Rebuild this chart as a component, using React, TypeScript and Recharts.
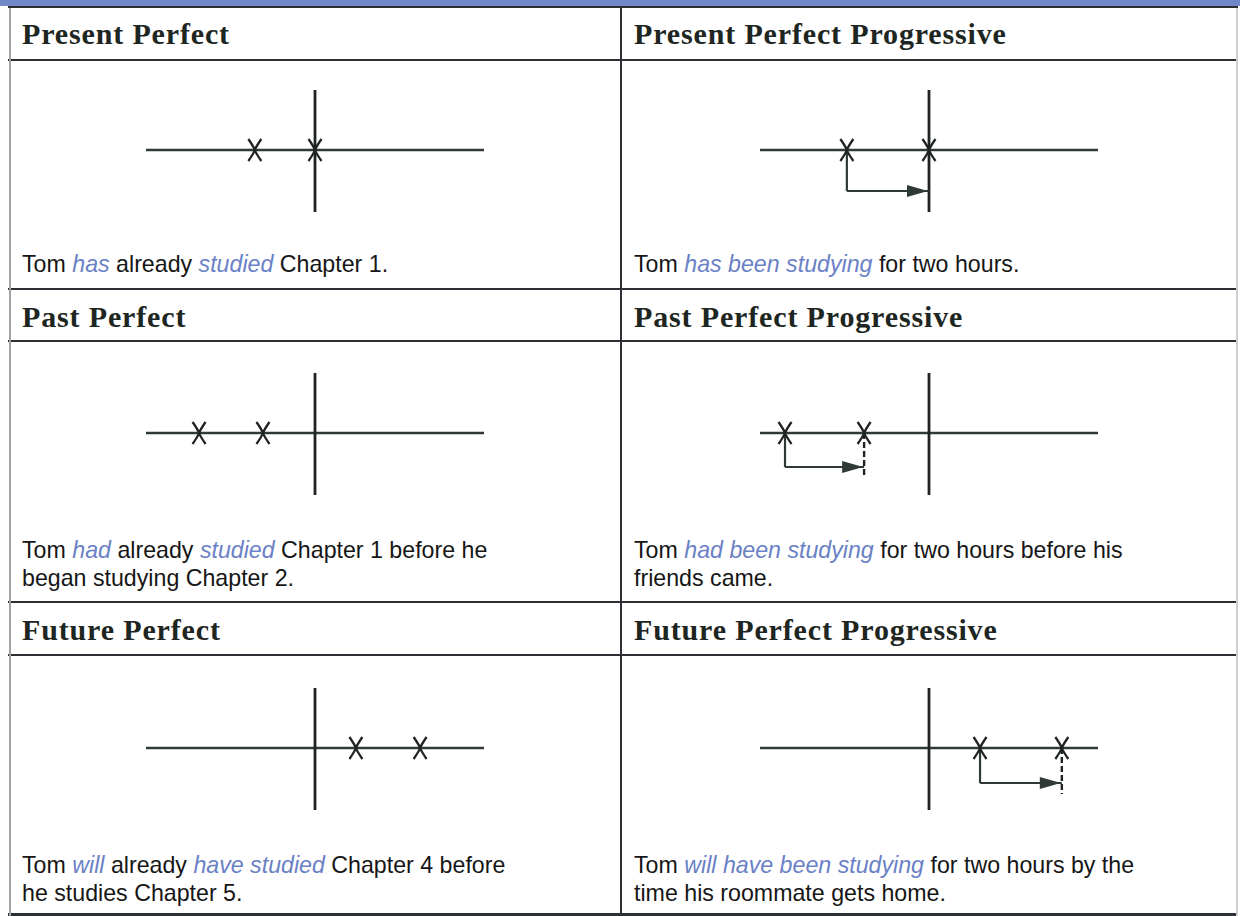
import { ScatterChart, Scatter, XAxis, YAxis, ReferenceLine } from 'recharts'

// time axis: "now" = 0, timeline runs -5 .. 5
const TIMELINE = [-5, 5]
const NOW_TOP = 60
const NOW_BOTTOM = -62

const TITLES = [
  'Present Perfect',
  'Present Perfect Progressive',
  'Past Perfect',
  'Past Perfect Progressive',
  'Future Perfect',
  'Future Perfect Progressive',
]

// event marks (X) on each timeline
const MARKS = [
  [-1.78, 0],
  [-2.43, 0],
  [-3.43, -1.54],
  [-4.26, -1.92],
  [1.21, 3.11],
  [1.51, 3.93],
]

// progressive arrows: [from, to, arrowY, dashEndY | null]
const ARROWS: ([number, number, number, number | null] | null)[] = [
  null,
  [-2.43, 0, -41, null],
  null,
  [-4.26, -1.92, -34, -45],
  null,
  [1.51, 3.93, -35, -46],
]

type Seg = [string, boolean]
const SENTENCES: Seg[][][] = [
  [[['Tom ', false], ['has', true], [' already ', false], ['studied', true], [' Chapter 1.', false]]],
  [[['Tom ', false], ['has been studying', true], [' for two hours.', false]]],
  [
    [['Tom ', false], ['had', true], [' already ', false], ['studied', true], [' Chapter 1 before he', false]],
    [['began studying Chapter 2.', false]],
  ],
  [
    [['Tom ', false], ['had been studying', true], [' for two hours before his', false]],
    [['friends came.', false]],
  ],
  [
    [['Tom ', false], ['will', true], [' already ', false], ['have studied', true], [' Chapter 4 before', false]],
    [['he studies Chapter 5.', false]],
  ],
  [
    [['Tom ', false], ['will have been studying', true], [' for two hours by the', false]],
    [['time his roommate gets home.', false]],
  ],
]

const ROW_HEADER_TOP = [17, 300, 613]
const ROW_CHART_TOP = [80, 363, 678]
const ROW_TEXT_TOP = [250, 536, 851]
const COL_LEFT = [22, 634]
const COL_CHART_LEFT = [126, 740]

const LINE = '#2f3a36'
const INK = '#1f2422'
const BLUE = '#6a81c6'
const RULE = '#2c3034'

function XMark(props: any) {
  const { cx, cy } = props
  return (
    <path
      d={`M${cx - 6.5} ${cy - 11} Q${cx - 1} ${cy - 3} ${cx} ${cy} Q${cx + 1} ${cy + 3} ${cx + 6.5} ${cy + 11} M${cx + 6.5} ${cy - 11} Q${cx + 1} ${cy - 3} ${cx} ${cy} Q${cx - 1} ${cy + 3} ${cx - 6.5} ${cy + 11}`}
      stroke={INK}
      strokeWidth={2.3}
      fill="none"
    />
  )
}

function ArrowHead(props: any) {
  const { cx, cy } = props
  return <path d={`M${cx - 1} ${cy} L${cx - 22} ${cy - 6} L${cx - 22} ${cy + 6} Z`} fill={LINE} />
}

function Timeline({ idx }: { idx: number }) {
  const marks = MARKS[idx].map((x) => ({ x, y: 0 }))
  const arrow = ARROWS[idx]
  return (
    <ScatterChart width={378} height={140} margin={{ top: 0, right: 20, bottom: 0, left: 20 }}>
      <XAxis type="number" dataKey="x" domain={TIMELINE} hide allowDataOverflow />
      <YAxis type="number" dataKey="y" domain={[-70, 70]} hide allowDataOverflow />
      <ReferenceLine
        segment={[{ x: TIMELINE[0], y: 0 }, { x: TIMELINE[1], y: 0 }]}
        stroke={LINE}
        strokeWidth={2.5}
      />
      <ReferenceLine
        segment={[{ x: 0, y: NOW_TOP }, { x: 0, y: NOW_BOTTOM }]}
        stroke={INK}
        strokeWidth={2.8}
      />
      {arrow && (
        <ReferenceLine
          segment={[{ x: arrow[0], y: 0 }, { x: arrow[0], y: arrow[2] }]}
          stroke={LINE}
          strokeWidth={2.2}
        />
      )}
      {arrow && (
        <ReferenceLine
          segment={[{ x: arrow[0], y: arrow[2] }, { x: arrow[1], y: arrow[2] }]}
          stroke={LINE}
          strokeWidth={2.2}
        />
      )}
      {arrow && arrow[3] !== null && (
        <ReferenceLine
          segment={[{ x: arrow[1], y: 0 }, { x: arrow[1], y: arrow[3] }]}
          stroke={INK}
          strokeWidth={2.4}
          strokeDasharray="6 3"
        />
      )}
      {arrow && (
        <Scatter
          data={[{ x: arrow[1], y: arrow[2] }]}
          shape={ArrowHead}
          isAnimationActive={false}
        />
      )}
      <Scatter data={marks} shape={XMark} isAnimationActive={false} />
    </ScatterChart>
  )
}

const hRule = (top: number, h = 2) => (
  <div style={{ position: 'absolute', left: 8, top, width: 1230, height: h, background: RULE }} />
)

export default function App() {
  return (
    <div style={{ position: 'relative', width: 1240, height: 916, background: '#fff', overflow: 'hidden' }}>
      <style>{`body{margin:0}`}</style>
      <div style={{ position: 'absolute', left: 0, top: 0, width: 1240, height: 6, background: '#7088c8' }} />
      {hRule(6)}
      {hRule(59)}
      {hRule(288)}
      {hRule(340)}
      {hRule(601)}
      {hRule(654)}
      {hRule(913, 3)}
      <div style={{ position: 'absolute', left: 9, top: 8, width: 2, height: 908, background: '#a3a3a3' }} />
      <div style={{ position: 'absolute', left: 1236, top: 8, width: 2, height: 908, background: '#cfcfcf' }} />
      <div style={{ position: 'absolute', left: 620, top: 8, width: 2, height: 908, background: RULE }} />

      {TITLES.map((t, i) => {
        const row = Math.floor(i / 2)
        const col = i % 2
        return (
          <div
            key={t}
            style={{
              position: 'absolute',
              left: COL_LEFT[col],
              top: ROW_HEADER_TOP[row],
              fontFamily: '"Liberation Serif", serif',
              fontWeight: 'bold',
              fontSize: 30,
              lineHeight: '34px',
              letterSpacing: 0.85,
              color: '#1e2622',
              whiteSpace: 'nowrap',
            }}
          >
            {t}
          </div>
        )
      })}

      {TITLES.map((t, i) => {
        const row = Math.floor(i / 2)
        const col = i % 2
        return (
          <div key={'c' + t} style={{ position: 'absolute', left: COL_CHART_LEFT[col], top: ROW_CHART_TOP[row] }}>
            <Timeline idx={i} />
          </div>
        )
      })}

      {SENTENCES.map((lines, i) => {
        const row = Math.floor(i / 2)
        const col = i % 2
        return (
          <div
            key={'s' + i}
            style={{
              position: 'absolute',
              left: COL_LEFT[col],
              top: ROW_TEXT_TOP[row],
              fontFamily: '"Liberation Sans", Arial, sans-serif',
              fontSize: 23.2,
              lineHeight: '28px',
              color: '#161616',
              whiteSpace: 'pre',
            }}
          >
            {lines.map((segs, j) => (
              <div key={j}>
                {segs.map(([txt, em], k) =>
                  em ? (
                    <span key={k} style={{ fontStyle: 'italic', color: BLUE }}>
                      {txt}
                    </span>
                  ) : (
                    <span key={k}>{txt}</span>
                  )
                )}
              </div>
            ))}
          </div>
        )
      })}
    </div>
  )
}
